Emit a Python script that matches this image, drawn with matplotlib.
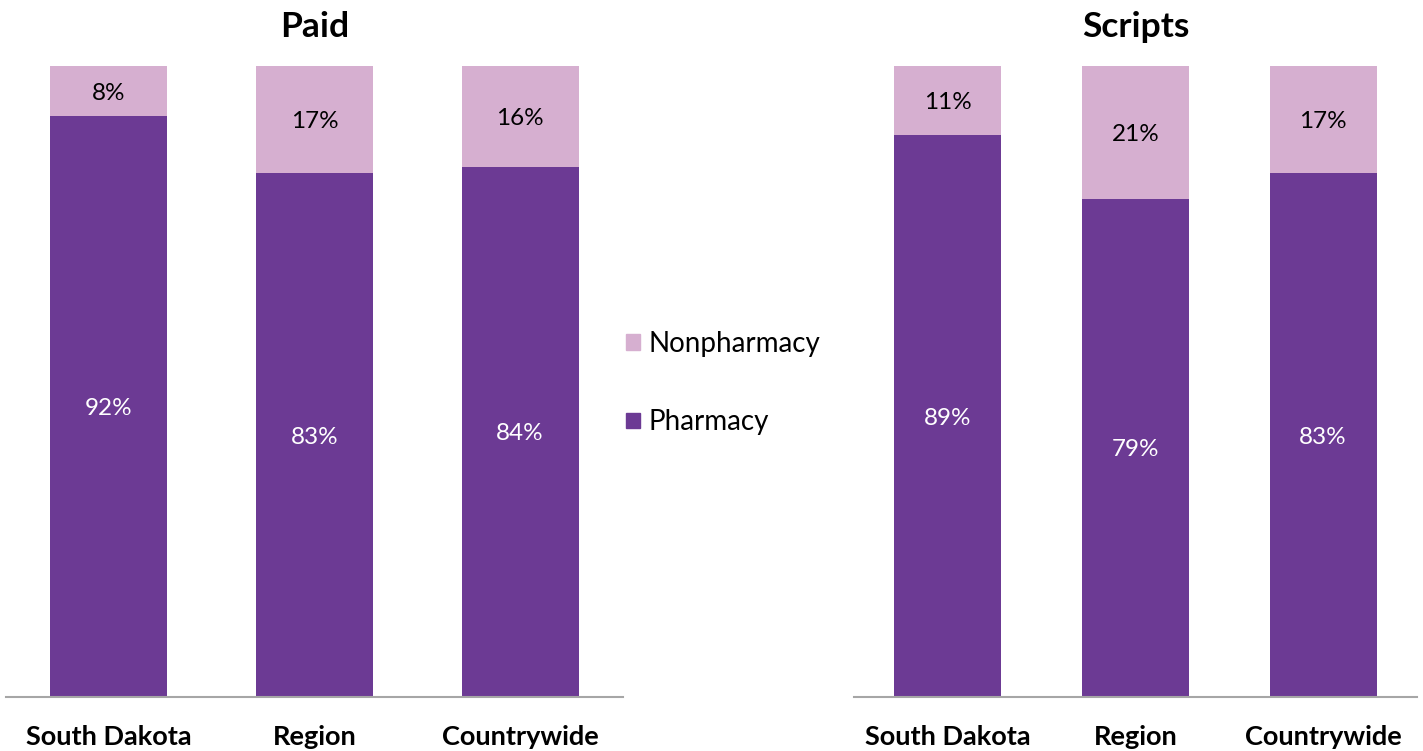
import matplotlib.pyplot as plt
import numpy as np
from matplotlib.patches import Patch

categories = ["South Dakota", "Region", "Countrywide"]
paid_pharmacy = [92, 83, 84]
paid_nonpharmacy = [8, 17, 16]
scripts_pharmacy = [89, 79, 83]
scripts_nonpharmacy = [11, 21, 17]

PHARM = "#6C3A94"
NONPHARM = "#D6AFD0"

plt.rcParams['font.family'] = ['Lato', 'DejaVu Sans']

fig = plt.figure(figsize=(14.23, 7.51), dpi=100)
ax1 = fig.add_axes([6 / 1423, 54 / 751, 617 / 1423, 631 / 751])
ax2 = fig.add_axes([854 / 1423, 54 / 751, 563 / 1423, 631 / 751])


def draw_panel(ax, title, pharm, nonpharm):
    x = np.arange(len(categories))
    ph = np.array(pharm) / 100
    nph = np.array(nonpharm) / 100
    ax.bar(x, ph, width=0.57, color=PHARM)
    ax.bar(x, nph, width=0.57, bottom=ph, color=NONPHARM)
    for i in range(len(x)):
        ax.text(x[i], ph[i] / 2, f"{pharm[i]}%", ha="center", va="center_baseline",
                color="white", fontsize=17.5)
        ax.text(x[i], ph[i] + nph[i] / 2, f"{nonpharm[i]}%", ha="center",
                va="center_baseline", color="black", fontsize=17.5)
    ax.set_xlim(-0.5, 2.5)
    ax.set_ylim(0, 1)
    ax.set_yticks([])
    ax.set_xticks(x)
    ax.set_xticklabels(categories, fontsize=19.5, fontweight="bold")
    ax.tick_params(axis="x", length=0, pad=20)
    for s in ["top", "right", "left"]:
        ax.spines[s].set_visible(False)
    ax.spines["bottom"].set_color("#A6A6A6")
    ax.spines["bottom"].set_linewidth(1.5)
    ax.set_title(title, fontsize=25.5, fontweight="bold", pad=21)


draw_panel(ax1, "Paid", paid_pharmacy, paid_nonpharmacy)
draw_panel(ax2, "Scripts", scripts_pharmacy, scripts_nonpharmacy)

handles = [Patch(color=NONPHARM, label="Nonpharmacy"),
           Patch(color=PHARM, label="Pharmacy")]
fig.legend(handles=handles, loc="center", bbox_to_anchor=(723 / 1423, 1 - 383 / 751),
           frameon=False, fontsize=20, handlelength=0.5, handleheight=0.5,
           handletextpad=0.3, labelspacing=1.9)

fig.savefig("out.png", dpi=100)
